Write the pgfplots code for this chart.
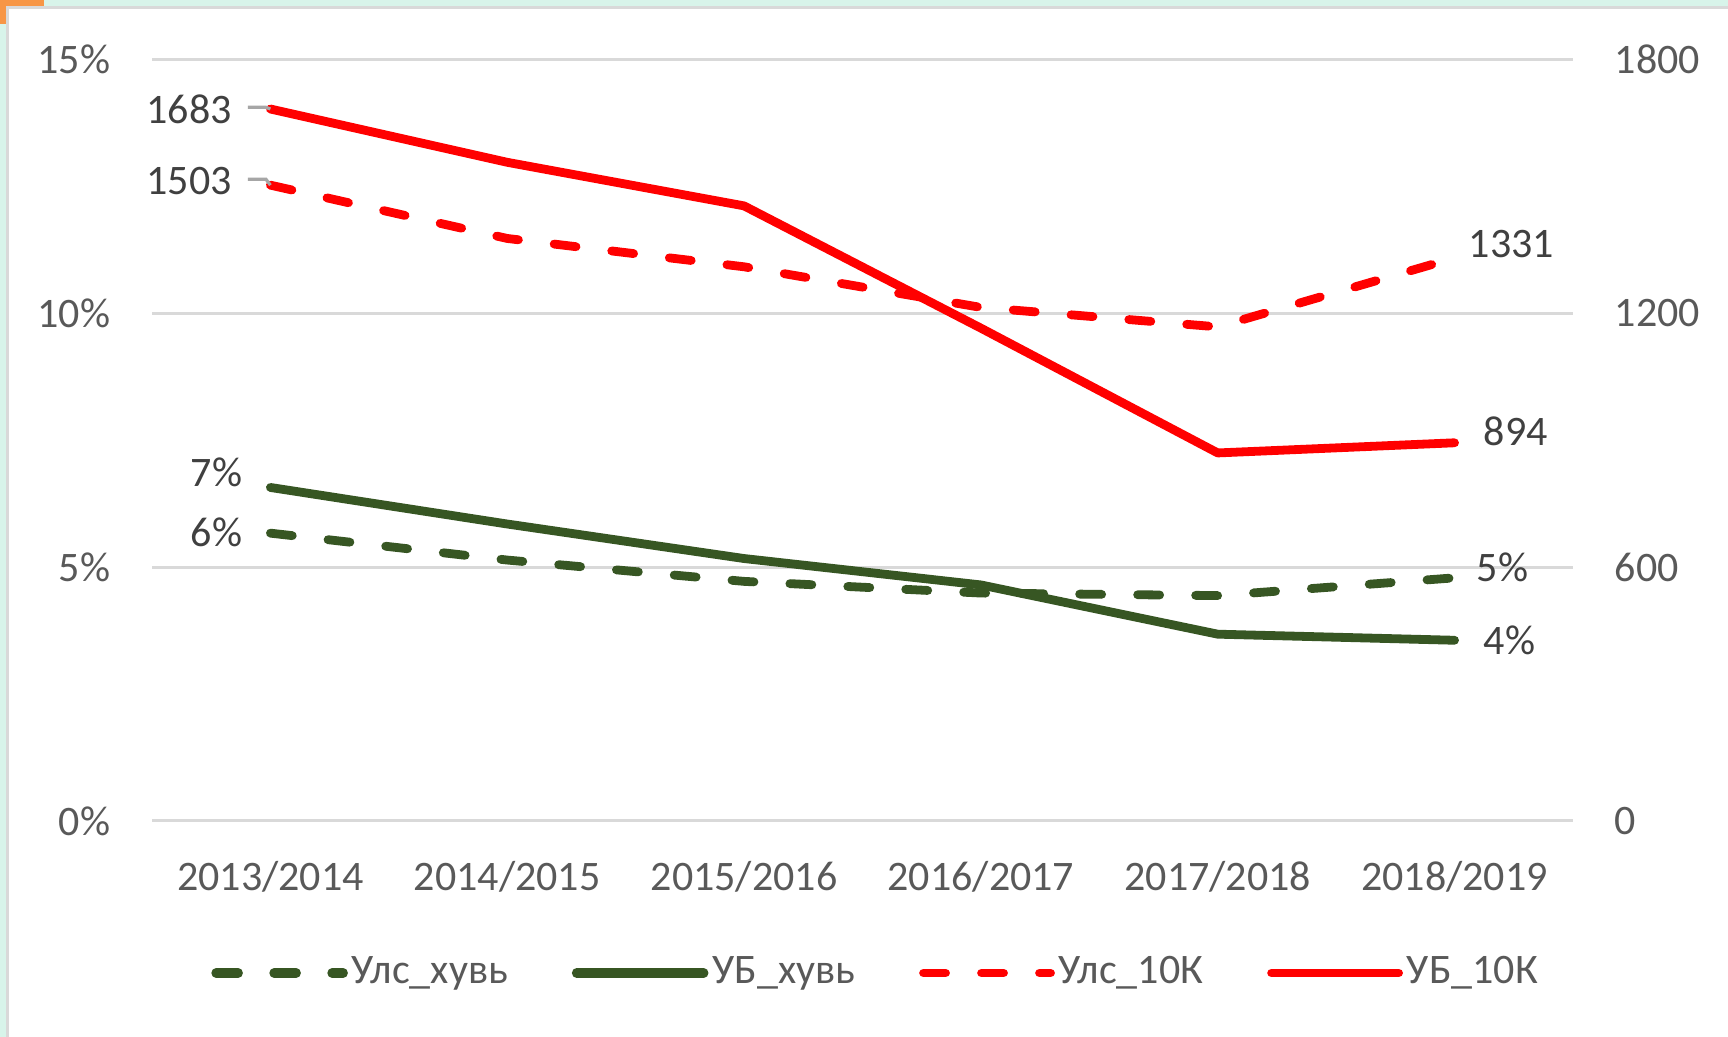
\documentclass[border=0pt]{standalone}
\usepackage{fontspec}
\setmainfont{Carlito}
\usepackage{pgfplots}
\pgfplotsset{compat=1.18}
\definecolor{gridgray}{HTML}{D9D9D9}
\definecolor{ticktext}{HTML}{595959}
\definecolor{labeltext}{HTML}{404040}
\definecolor{leadergray}{HTML}{A6A6A6}
\definecolor{dgreen}{HTML}{375623}
\definecolor{xred}{HTML}{FF0000}
\definecolor{mint}{HTML}{D8F4EA}
\definecolor{xorange}{HTML}{F79646}
\newcommand{\lblfont}{\fontsize{10.5}{12.6}\selectfont}
\tikzset{
  dashstyle/.style={dash pattern=on 5.5pt off 9pt},
  dlabel/.style={inner sep=0pt, text=labeltext, font=\lblfont},
}
\pgfplotsset{
  common/.style={
    at={(38pt,-205.25pt)}, anchor=south west,
    scale only axis, width=355.25pt, height=190.375pt,
    xmin=-0.5, xmax=5.5,
    axis line style={draw=none},
    major tick style={draw=none}, minor tick style={draw=none},
    tick label style={font=\lblfont, text=ticktext},
    /pgf/number format/assume math mode=true,
    /pgf/number format/set thousands separator={},
    clip=false,
    every axis plot/.append style={line cap=round, line join=round},
    legend image code/.code={\draw[line cap=round, ##1] (0pt,0pt) -- (31.75pt,0pt);},
  },
}
\begin{document}
\begin{tikzpicture}[x=1pt,y=1pt]
\fill[white] (0,0) rectangle (432,-259.25);
\path[use as bounding box] (0,0) rectangle (432,-259.25);
\fill[mint] (0,0) rectangle (432,-1.5);
\fill[mint] (0,0) rectangle (1.5,-259.25);
\fill[xorange] (0,0) rectangle (11,-1.6);
\fill[xorange] (0,0) rectangle (1.4,-6);
\draw[gridgray, line width=0.8pt] (1.9,-259.25) -- (1.9,-1.9) -- (432,-1.9);

\begin{axis}[common,
  ymin=0, ymax=15, ytick={0,5,10,15},
  yticklabel={\pgfmathprintnumber{\tick}\%},
  ymajorgrids, grid style={gridgray, line width=0.75pt},
  xtick={0,1,2,3,4,5},
  xticklabels={2013/2014,2014/2015,2015/2016,2016/2017,2017/2018,2018/2019},
  xticklabel style={anchor=base, inner sep=0pt, yshift=-17.25pt},
  yticklabel style={anchor=east, inner sep=0pt, xshift=-10.25pt},
]
\addplot[dgreen, line width=2.2pt, dashstyle] coordinates {(0,5.67)(1,5.14)(2,4.72)(3,4.49)(4,4.44)(5,4.79)};
\addplot[dgreen, line width=2.2pt] coordinates {(0,6.57)(1,5.85)(2,5.17)(3,4.65)(4,3.68)(5,3.56)};
\node[dlabel, anchor=east] at (axis cs:-0.116,6.874) {7\%};
\node[dlabel, anchor=east] at (axis cs:-0.116,5.69) {6\%};
\node[dlabel, anchor=west] at (axis cs:5.091,4.993) {5\%};
\node[dlabel, anchor=west] at (axis cs:5.120,3.565) {4\%};
\end{axis}

\begin{axis}[common,
  ymin=0, ymax=1800, ytick={0,600,1200,1800},
  axis y line*=right, xtick=\empty,
  yticklabel style={anchor=west, inner sep=0pt, xshift=10.25pt},
  legend columns=4,
  legend style={at={(0.510,-0.1996)}, anchor=center, draw=none, fill=none,
    font=\lblfont, text=ticktext,
    /tikz/every even column/.append style={column sep=15pt},
    nodes={inner sep=1pt}, cells={anchor=west}},
]
\addlegendimage{dgreen, line width=2.4pt, dashstyle}
\addlegendentry{Улс\_хувь}
\addlegendimage{dgreen, line width=2.4pt}
\addlegendentry{УБ\_хувь}
\addplot[xred, line width=2.2pt, dashstyle] coordinates {(0,1503)(1,1377)(2,1310)(3,1214)(4,1168)(5,1331)};
\addlegendentry{Улс\_10К}
\addplot[xred, line width=2.2pt] coordinates {(0,1683)(1,1557)(2,1454)(3,1165)(4,870)(5,894)};
\addlegendentry{УБ\_10К}
\draw[leadergray, line width=0.8pt] (axis cs:-0.095,1687) -- (axis cs:-0.019,1687) -- (axis cs:0,1683);
\draw[leadergray, line width=0.8pt] (axis cs:-0.095,1517) -- (axis cs:-0.019,1517) -- (axis cs:0,1503);
\node[dlabel, anchor=east] at (axis cs:-0.160,1683) {1683};
\node[dlabel, anchor=east] at (axis cs:-0.160,1513) {1503};
\node[dlabel, anchor=west] at (axis cs:5.057,1364) {1331};
\node[dlabel, anchor=west] at (axis cs:5.120,922) {894};
\end{axis}
\end{tikzpicture}
\end{document}
